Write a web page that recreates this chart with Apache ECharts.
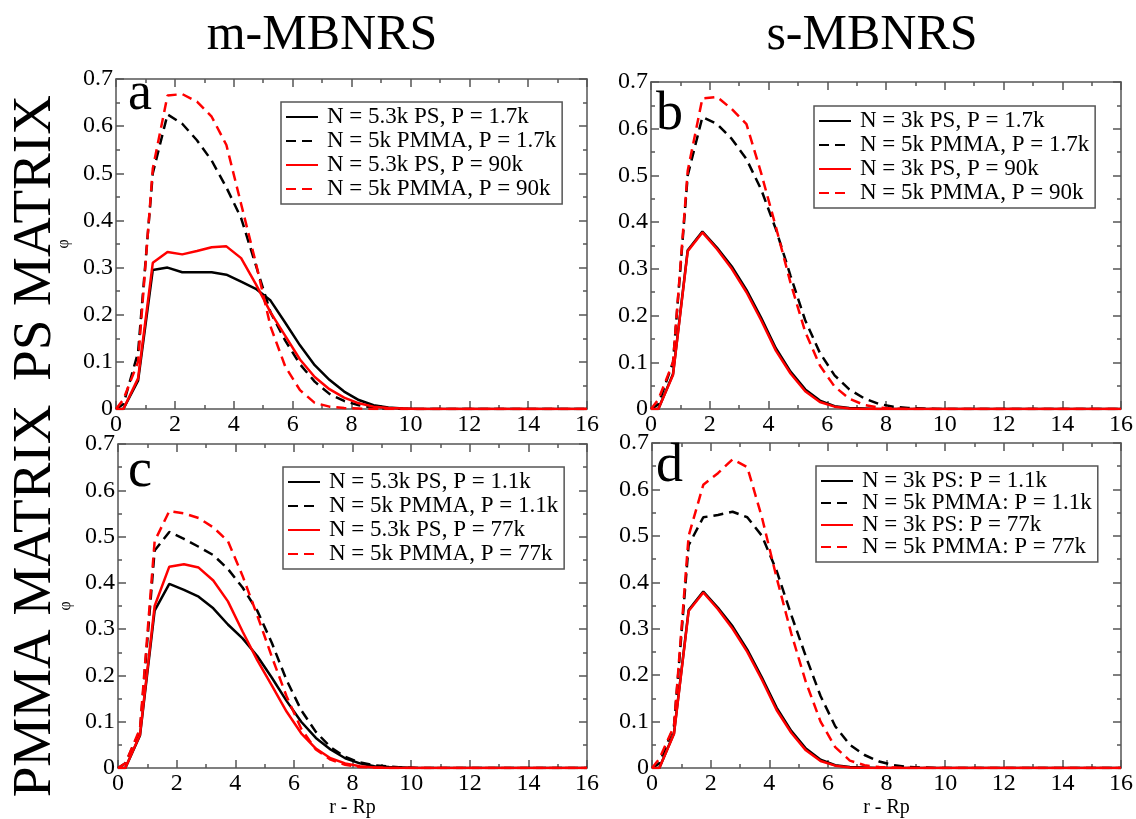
<!DOCTYPE html>
<html>
<head>
<meta charset="utf-8">
<script src="https://cdn.jsdelivr.net/npm/echarts@6/dist/echarts.min.js"></script>
<style>
html, body { margin: 0; padding: 0; background: #ffffff; }
#chart { width: 1136px; height: 819px; }
</style>
</head>
<body>
<div id="chart"></div>
<script>
// Distance from the particle surface, r - Rp
const rValues = [0, 0.25, 0.75, 1.25, 1.75, 2.25, 2.75, 3.25, 3.75, 4.25, 4.75, 5.25,
  5.75, 6.25, 6.75, 7.25, 7.75, 8.25, 8.75, 9.25, 9.75, 10.25, 16];

// Panel a: m-MBNRS in PS matrix
const aNames = ['N = 5.3k PS, P = 1.7k', 'N = 5k PMMA, P = 1.7k', 'N = 5.3k PS, P = 90k', 'N = 5k PMMA, P = 90k'];
const aPsLow    = [0, 0, 0.06, 0.295, 0.300, 0.290, 0.290, 0.290, 0.285, 0.270, 0.255, 0.230, 0.183, 0.135, 0.093, 0.062, 0.037, 0.019, 0.008, 0.003, 0.001, 0, 0];
const aPmmaLow  = [0, 0.01, 0.12, 0.50, 0.625, 0.605, 0.570, 0.527, 0.470, 0.405, 0.305, 0.205, 0.145, 0.095, 0.058, 0.032, 0.017, 0.008, 0.003, 0.001, 0, 0, 0];
const aPsHigh   = [0, 0, 0.065, 0.310, 0.333, 0.328, 0.335, 0.343, 0.345, 0.320, 0.265, 0.205, 0.155, 0.105, 0.068, 0.042, 0.024, 0.012, 0.005, 0.002, 0.001, 0, 0];
const aPmmaHigh = [0, 0.02, 0.10, 0.51, 0.665, 0.668, 0.652, 0.620, 0.560, 0.435, 0.310, 0.175, 0.090, 0.040, 0.013, 0.005, 0.002, 0.001, 0, 0, 0, 0, 0];

// Panel b: s-MBNRS in PS matrix
const bNames = ['N = 3k PS, P = 1.7k', 'N = 5k PMMA, P = 1.7k', 'N = 3k PS, P = 90k', 'N = 5k PMMA, P = 90k'];
const bPsLow    = [0, 0, 0.075, 0.340, 0.380, 0.345, 0.305, 0.255, 0.195, 0.130, 0.080, 0.042, 0.018, 0.006, 0.002, 0.001, 0, 0, 0, 0, 0, 0, 0];
const bPmmaLow  = [0, 0.01, 0.10, 0.50, 0.625, 0.610, 0.578, 0.535, 0.470, 0.385, 0.285, 0.190, 0.120, 0.072, 0.042, 0.023, 0.011, 0.005, 0.002, 0.001, 0, 0, 0];
const bPsHigh   = [0, 0, 0.073, 0.338, 0.378, 0.342, 0.300, 0.250, 0.190, 0.125, 0.076, 0.038, 0.015, 0.005, 0.001, 0, 0, 0, 0, 0, 0, 0, 0];
const bPmmaHigh = [0, 0.02, 0.10, 0.51, 0.665, 0.668, 0.642, 0.610, 0.505, 0.390, 0.270, 0.165, 0.093, 0.048, 0.022, 0.009, 0.003, 0.001, 0, 0, 0, 0, 0];

// Panel c: m-MBNRS in PMMA matrix
const cNames = ['N = 5.3k PS, P = 1.1k', 'N = 5k PMMA, P = 1.1k', 'N = 5.3k PS, P = 77k', 'N = 5k PMMA, P = 77k'];
const cPsLow    = [0, 0, 0.070, 0.340, 0.398, 0.385, 0.370, 0.345, 0.310, 0.280, 0.242, 0.195, 0.145, 0.100, 0.065, 0.040, 0.021, 0.010, 0.004, 0.002, 0.001, 0, 0];
const cPmmaLow  = [0, 0.01, 0.08, 0.47, 0.510, 0.495, 0.478, 0.460, 0.430, 0.390, 0.340, 0.270, 0.190, 0.125, 0.078, 0.045, 0.024, 0.012, 0.006, 0.003, 0.001, 0, 0];
const cPsHigh   = [0, 0, 0.072, 0.350, 0.435, 0.440, 0.433, 0.405, 0.360, 0.295, 0.233, 0.178, 0.122, 0.075, 0.042, 0.021, 0.010, 0.004, 0.001, 0, 0, 0, 0];
const cPmmaHigh = [0, 0.01, 0.085, 0.49, 0.555, 0.550, 0.540, 0.520, 0.490, 0.415, 0.330, 0.240, 0.155, 0.085, 0.040, 0.018, 0.007, 0.002, 0.001, 0, 0, 0, 0];

// Panel d: s-MBNRS in PMMA matrix
const dNames = ['N = 3k PS: P = 1.1k', 'N = 5k PMMA: P = 1.1k', 'N = 3k PS: P = 77k', 'N = 5k PMMA: P = 77k'];
const dPsLow    = [0, 0, 0.075, 0.340, 0.380, 0.345, 0.305, 0.255, 0.195, 0.130, 0.080, 0.042, 0.018, 0.006, 0.002, 0.001, 0, 0, 0, 0, 0, 0, 0];
const dPmmaLow  = [0, 0.01, 0.09, 0.48, 0.540, 0.545, 0.552, 0.540, 0.500, 0.425, 0.330, 0.240, 0.155, 0.090, 0.050, 0.028, 0.014, 0.006, 0.002, 0.001, 0, 0, 0];
const dPsHigh   = [0, 0, 0.073, 0.338, 0.378, 0.342, 0.300, 0.250, 0.190, 0.125, 0.076, 0.038, 0.015, 0.005, 0.001, 0, 0, 0, 0, 0, 0, 0, 0];
const dPmmaHigh = [0, 0.02, 0.09, 0.50, 0.610, 0.635, 0.665, 0.648, 0.540, 0.410, 0.290, 0.185, 0.100, 0.045, 0.016, 0.006, 0.002, 0.001, 0, 0, 0, 0, 0];

const xTicks = { min: 0, max: 16, interval: 2 };
const yTicks = { min: 0, max: 0.7, interval: 0.1 };

const columnTitles = ['m-MBNRS', 's-MBNRS'];
const rowTitles = ['PS MATRIX', 'PMMA MATRIX'];
const panelLetters = ['a', 'b', 'c', 'd'];
const yName = 'φ';
const xName = 'r - Rp';

const SERIF = 'Liberation Serif';
const AXIS_COLOR = '#555555';

const panels = [
  { grid: { left: 116, top: 79, width: 471, height: 330 }, names: aNames, ys: [aPsLow, aPmmaLow, aPsHigh, aPmmaHigh],
    legend: { left: 281, top: 102, gap: 0 }, letter: [128, 68], showYName: true, showXName: false },
  { grid: { left: 651, top: 82, width: 470, height: 327 }, names: bNames, ys: [bPsLow, bPmmaLow, bPsHigh, bPmmaHigh],
    legend: { left: 814, top: 106, gap: 0 }, letter: [656, 88], showYName: false, showXName: false },
  { grid: { left: 118, top: 444, width: 469, height: 330 }, names: cNames, ys: [cPsLow, cPmmaLow, cPsHigh, cPmmaHigh],
    legend: { left: 283, top: 467, gap: 0 }, letter: [128, 445], showYName: true, showXName: true },
  { grid: { left: 652, top: 443, width: 469, height: 329 }, names: dNames, ys: [dPsLow, dPmmaLow, dPsHigh, dPmmaHigh],
    legend: { left: 816, top: 466, gap: -2 }, letter: [656, 440], showYName: false, showXName: true }
];

const seriesStyles = [
  { color: '#000000', type: 'solid' },
  { color: '#000000', type: [10, 6] },
  { color: '#ff0000', type: 'solid' },
  { color: '#ff0000', type: [10, 6] }
];

const tickLine = { color: AXIS_COLOR, width: 1.5 };

function xAxisFor(g, p, pos) {
  const bottom = pos === 'bottom';
  return Object.assign({
    gridIndex: g, type: 'value', position: pos,
    axisLine: { show: true, onZero: false, lineStyle: tickLine },
    axisTick: { show: true, inside: true, length: 8, lineStyle: tickLine },
    minorTick: { show: true, splitNumber: 2, length: 4, lineStyle: tickLine },
    splitLine: { show: false },
    axisLabel: { show: bottom, margin: 4, color: '#000', fontFamily: SERIF, fontSize: 24 },
    name: bottom && p.showXName ? xName : '',
    nameLocation: 'middle', nameGap: 30,
    nameTextStyle: { color: '#000', fontFamily: SERIF, fontSize: 20 }
  }, xTicks);
}

function yAxisFor(g, p, pos) {
  const left = pos === 'left';
  return Object.assign({
    gridIndex: g, type: 'value', position: pos,
    axisLine: { show: true, onZero: false, lineStyle: tickLine },
    axisTick: { show: true, inside: true, length: 8, lineStyle: tickLine },
    minorTick: { show: true, splitNumber: 2, length: 4, lineStyle: tickLine },
    splitLine: { show: false },
    axisLabel: { show: left, margin: 3, color: '#000', fontFamily: SERIF, fontSize: 24 },
    name: left && p.showYName ? yName : '',
    nameLocation: 'middle', nameGap: 44, nameRotate: 90,
    nameTextStyle: { color: '#000', fontFamily: SERIF, fontSize: 16 }
  }, yTicks);
}

const grids = [], xAxes = [], yAxes = [], series = [], legends = [], graphics = [];

panels.forEach((p, g) => {
  grids.push(p.grid);
  xAxes.push(xAxisFor(g, p, 'bottom'), xAxisFor(g, p, 'top'));
  yAxes.push(yAxisFor(g, p, 'left'), yAxisFor(g, p, 'right'));
  p.ys.forEach((vals, k) => {
    series.push({
      type: 'line', name: p.names[k],
      xAxisIndex: 2 * g, yAxisIndex: 2 * g,
      symbol: 'none', smooth: false, animation: false,
      lineStyle: { color: seriesStyles[k].color, type: seriesStyles[k].type, width: 2.5 },
      itemStyle: { color: seriesStyles[k].color },
      data: rValues.map((r, i) => [r, vals[i]]),
      z: 2 + k
    });
  });
  legends.push({
    orient: 'vertical', left: p.legend.left, top: p.legend.top,
    data: p.names, selectedMode: false,
    itemWidth: 32, itemHeight: 14, itemGap: p.legend.gap,
    itemStyle: { color: 'transparent', borderWidth: 0, opacity: 0 },
    padding: [3, 6, 3, 4],
    borderColor: AXIS_COLOR, borderWidth: 1.5, borderRadius: 0,
    backgroundColor: '#ffffff',
    textStyle: { color: '#000', fontFamily: SERIF, fontSize: 23, lineHeight: 24, padding: [0, 0, 0, 4] }
  });
  graphics.push({
    type: 'text', left: p.letter[0], top: p.letter[1], z: 10,
    style: { text: panelLetters[g], fill: '#000', fontFamily: SERIF, fontSize: 54 }
  });
});

// Column headings
graphics.push({
  type: 'text', x: 322, y: 36, z: 10,
  style: { text: columnTitles[0], fill: '#000', fontFamily: SERIF, fontSize: 50, align: 'center', verticalAlign: 'middle' }
});
graphics.push({
  type: 'text', x: 872, y: 36, z: 10,
  style: { text: columnTitles[1], fill: '#000', fontFamily: SERIF, fontSize: 50, align: 'center', verticalAlign: 'middle' }
});
// Row headings, read bottom to top
graphics.push({
  type: 'text', x: 36, y: 238, rotation: Math.PI / 2, z: 10,
  style: { text: rowTitles[0], fill: '#000', fontFamily: SERIF, fontSize: 55, align: 'center', verticalAlign: 'middle' }
});
graphics.push({
  type: 'text', x: 36, y: 601, rotation: Math.PI / 2, z: 10,
  style: { text: rowTitles[1], fill: '#000', fontFamily: SERIF, fontSize: 55, align: 'center', verticalAlign: 'middle' }
});

const chart = echarts.init(document.getElementById('chart'), null, { renderer: 'canvas' });
chart.setOption({
  backgroundColor: '#ffffff',
  animation: false,
  grid: grids,
  xAxis: xAxes,
  yAxis: yAxes,
  legend: legends,
  series: series,
  graphic: graphics
});
</script>
</body>
</html>
